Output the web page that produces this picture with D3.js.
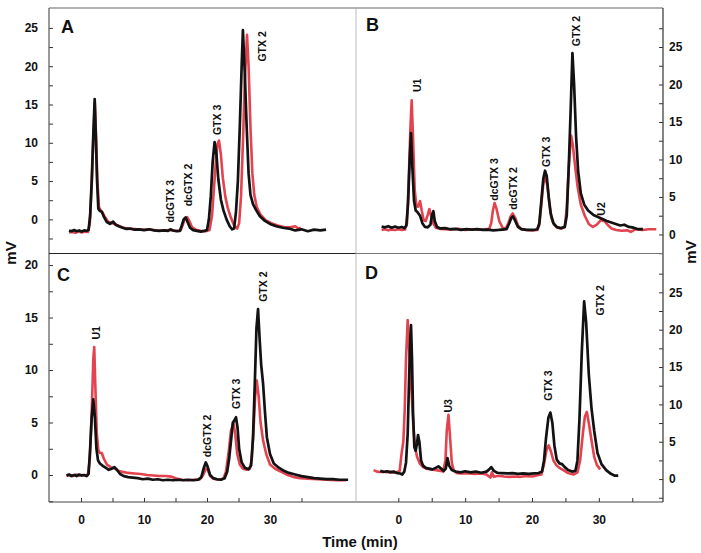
<!DOCTYPE html>
<html>
<head>
<meta charset="utf-8">
<script src="https://cdn.jsdelivr.net/npm/d3@7"></script>
<style>
  html, body { margin: 0; padding: 0; background: #fff; }
  svg { display: block; font-family: "Liberation Sans", Arial, sans-serif; font-weight: bold; }
</style>
</head>
<body>
<svg id="chart" width="701" height="553"></svg>
<script>
// ---------- DATA (time in min, signal in mV) ----------
const aRed = [[-1.9,-1.7],[-1.4,-1.65],[-0.9,-1.75],[-0.4,-1.6],[0.1,-1.7],[0.6,-1.6],[1.1,-1.65],[1.4,-0.5],[1.7,4.5],[1.95,10.5],[2.2,15.2],[2.4,10.5],[2.6,5],[2.85,1.6],[3.1,1.2],[3.4,0.9],[3.8,0.3],[4.3,-0.3],[5.0,-0.5],[5.6,-0.7],[6.3,-0.95],[7.0,-1.15],[8.0,-1.25],[9.0,-1.3],[10.0,-1.35],[11.0,-1.3],[12.0,-1.45],[13.0,-1.45],[14.0,-1.4],[15.0,-1.5],[15.8,-1.45],[16.2,-0.6],[16.5,0.1],[16.85,0.3],[17.2,-0.2],[17.6,-1.0],[18.2,-1.35],[19.0,-1.5],[19.8,-1.55],[20.4,-1.4],[20.8,0.5],[21.1,4],[21.4,7.5],[21.65,9.8],[21.9,10.3],[22.2,8.5],[22.5,5.5],[22.9,3.0],[23.3,1.5],[23.8,0.2],[24.3,-0.8],[24.8,-1.2],[25.1,-0.5],[25.4,3],[25.7,10],[26.0,18],[26.35,24.1],[26.6,20],[26.9,12],[27.2,6],[27.5,3.2],[27.9,1.6],[28.5,0.6],[29.3,-0.1],[30.2,-0.5],[31.2,-0.8],[32.2,-1.0],[33.2,-1.05],[34.0,-0.9],[34.5,-1.2],[34.9,-1.1]];
const aBlack = [[-1.9,-1.45],[-1.5,-1.55],[-1.1,-1.4],[-0.7,-1.55],[-0.3,-1.45],[0.1,-1.6],[0.5,-1.45],[0.9,-1.5],[1.2,-1.4],[1.45,0.5],[1.7,5],[1.95,11],[2.17,15.7],[2.35,11],[2.55,5],[2.75,1.4],[3.0,1.1],[3.3,1.0],[3.6,0.4],[4.1,-0.35],[4.6,-0.6],[5.1,-0.3],[5.5,-0.7],[6.0,-0.9],[6.6,-1.1],[7.2,-1.25],[7.8,-1.2],[8.5,-1.35],[9.2,-1.3],[10.0,-1.4],[10.8,-1.3],[11.6,-1.45],[12.4,-1.5],[13.2,-1.45],[13.8,-1.5],[14.2,-1.3],[14.6,-1.45],[15.2,-1.55],[15.7,-1.5],[16.0,-0.8],[16.3,0.0],[16.6,0.25],[16.9,-0.3],[17.3,-1.1],[17.8,-1.4],[18.4,-1.5],[19.0,-1.6],[19.6,-1.5],[20.0,-1.4],[20.3,0.0],[20.6,3.0],[20.9,7.5],[21.2,10.1],[21.5,8.5],[21.8,5.2],[22.2,2.6],[22.6,1.2],[23.1,0.0],[23.6,-0.9],[24.0,-1.3],[24.3,-1.2],[24.6,1.0],[24.9,5],[25.2,12],[25.5,20],[25.7,24.7],[26.0,19],[26.3,12],[26.6,6],[26.9,3.2],[27.3,2.0],[27.8,1.2],[28.4,0.4],[29.2,-0.2],[30.0,-0.6],[31.0,-0.9],[32.0,-1.1],[33.0,-1.2],[34.0,-1.45],[35.0,-1.3],[36.0,-1.55],[37.0,-1.35],[38.0,-1.45],[38.9,-1.35]];

const bRed = [[-2.5,0.6],[-2.0,0.7],[-1.5,0.55],[-1.0,0.65],[-0.5,0.6],[0.0,0.7],[0.5,0.6],[1.0,0.65],[1.3,1.5],[1.55,7],[1.8,14],[2.0,17.9],[2.2,13],[2.45,6],[2.7,3.8],[2.95,3.7],[3.25,4.45],[3.5,3.2],[3.8,1.9],[4.1,1.8],[4.4,2.6],[4.65,3.4],[4.9,2.5],[5.2,1.5],[5.6,0.9],[6.2,0.75],[7.0,0.7],[8.0,0.65],[9.0,0.75],[10.0,0.6],[11.0,0.7],[12.0,0.65],[13.0,0.7],[13.6,0.75],[13.9,1.5],[14.15,3.2],[14.4,4.2],[14.7,3.4],[15.1,1.8],[15.6,0.9],[16.1,0.8],[16.5,1.6],[16.8,2.4],[17.1,2.8],[17.5,2.2],[17.9,1.2],[18.4,0.7],[19.2,0.6],[20.0,0.55],[20.8,0.6],[21.1,1.3],[21.4,4],[21.7,6.8],[22.0,7.7],[22.3,6.5],[22.6,4.0],[22.9,2.2],[23.3,1.3],[23.8,0.9],[24.4,0.8],[24.9,1.0],[25.2,3.5],[25.5,9],[25.85,13.2],[26.1,12],[26.4,9.5],[26.8,6.5],[27.3,4.0],[27.9,2.5],[28.5,1.4],[29.1,1.0],[29.7,1.3],[30.3,1.9],[30.8,1.8],[31.3,1.3],[31.9,0.8],[32.6,0.6],[33.4,0.5],[34.2,0.55],[34.8,0.35],[35.5,0.7],[36.5,0.6],[37.5,0.7],[38.6,0.7]];
const bBlack = [[-2.5,1.05],[-2.0,0.95],[-1.5,1.1],[-1.0,0.9],[-0.5,1.05],[0.0,0.9],[0.5,1.0],[0.9,0.85],[1.2,1.2],[1.45,4],[1.7,10],[1.9,13.5],[2.1,9],[2.35,4.5],[2.6,3.2],[2.85,3.0],[3.25,2.5],[3.6,1.5],[4.0,1.0],[4.4,0.95],[4.8,1.3],[5.05,2.6],[5.25,3.1],[5.45,1.8],[5.8,1.0],[6.3,0.8],[7.0,0.85],[7.8,0.7],[8.6,0.75],[9.4,0.6],[10.2,0.7],[11.0,0.65],[11.8,0.7],[12.6,0.6],[13.4,0.65],[14.2,0.55],[15.0,0.6],[15.6,0.65],[16.2,0.7],[16.6,1.5],[16.9,2.2],[17.15,2.4],[17.5,1.8],[17.9,1.0],[18.4,0.7],[19.2,0.6],[20.2,0.6],[20.8,0.7],[21.1,1.5],[21.4,4.5],[21.7,7.5],[21.95,8.5],[22.2,7.8],[22.5,5.0],[22.8,2.8],[23.2,1.5],[23.7,1.0],[24.3,0.85],[24.9,1.0],[25.2,2.5],[25.5,9],[25.8,17],[26.05,24.2],[26.3,20],[26.6,13],[26.9,8.5],[27.3,5.5],[27.8,4.0],[28.4,3.2],[29.2,2.6],[30.2,2.2],[31.2,1.8],[32.2,1.5],[33.2,1.2],[33.8,1.3],[34.5,1.0],[35.2,0.9],[35.9,0.7],[36.6,0.7]];

const cRed = [[-2.3,-0.1],[-1.8,0.0],[-1.3,-0.1],[-0.8,0.05],[-0.3,-0.05],[0.2,0.0],[0.7,-0.05],[1.1,0.05],[1.4,1.5],[1.7,6],[1.95,11],[2.1,12.2],[2.3,8],[2.5,4],[2.75,2.4],[3.0,2.1],[3.3,2.1],[3.6,1.6],[4.1,1.0],[4.7,0.75],[5.3,0.65],[5.9,0.4],[6.6,0.3],[7.5,0.2],[8.5,0.15],[9.5,0.1],[10.5,0.0],[11.5,-0.05],[12.5,-0.1],[13.5,-0.1],[14.3,-0.15],[15.0,-0.3],[16.0,-0.45],[17.0,-0.5],[18.0,-0.45],[18.9,-0.4],[19.4,0.0],[19.8,0.6],[20.1,0.5],[20.5,-0.1],[21.0,-0.35],[21.8,-0.45],[22.6,-0.35],[23.0,0.3],[23.4,2.0],[23.8,4.2],[24.2,5.0],[24.5,3.8],[24.8,2.0],[25.2,1.0],[25.7,0.6],[26.3,0.5],[26.8,0.6],[27.1,1.5],[27.4,4.5],[27.65,7.5],[27.9,9.0],[28.2,7.5],[28.5,5.0],[28.9,3.3],[29.4,2.0],[30.0,1.0],[30.8,0.6],[31.8,0.3],[32.8,0.0],[33.8,-0.2],[34.8,-0.3],[36.0,-0.35],[37.5,-0.4],[39.0,-0.45],[40.5,-0.5],[42.1,-0.5]];
const cBlack = [[-2.3,-0.05],[-1.9,0.05],[-1.5,-0.1],[-1.1,0.0],[-0.7,-0.1],[-0.3,0.05],[0.1,-0.05],[0.5,0.0],[0.9,-0.1],[1.2,0.1],[1.45,2.5],[1.7,5.5],[1.95,7.2],[2.2,5.5],[2.45,2.5],[2.7,1.4],[3.0,1.1],[3.4,0.9],[3.9,0.7],[4.4,0.5],[4.9,0.6],[5.3,0.75],[5.7,0.5],[6.2,0.1],[6.8,-0.1],[7.5,-0.2],[8.2,-0.25],[9.0,-0.3],[9.8,-0.4],[10.6,-0.35],[11.4,-0.45],[12.2,-0.4],[13.0,-0.5],[13.8,-0.45],[14.6,-0.5],[15.4,-0.45],[16.2,-0.5],[17.0,-0.45],[17.8,-0.5],[18.6,-0.45],[19.1,-0.2],[19.5,0.7],[19.8,1.2],[20.1,0.8],[20.5,0.0],[21.0,-0.3],[21.6,-0.4],[22.2,-0.45],[22.8,-0.3],[23.2,0.3],[23.5,1.5],[23.8,3.2],[24.1,5.0],[24.35,5.2],[24.6,5.5],[24.85,4.5],[25.1,2.5],[25.5,1.2],[26.0,0.7],[26.6,0.55],[27.0,0.9],[27.3,3.5],[27.6,9],[27.85,14],[28.1,15.8],[28.35,13],[28.6,10.5],[28.9,8.7],[29.2,6],[29.5,3.6],[30.0,2.0],[30.6,1.1],[31.4,0.7],[32.2,0.4],[33.0,0.2],[34.0,0.05],[35.0,-0.1],[36.0,-0.2],[37.0,-0.3],[38.0,-0.35],[39.0,-0.4],[40.0,-0.4],[41.0,-0.45],[42.4,-0.45]];

const dRed = [[-3.7,1.2],[-3.2,1.0],[-2.7,0.95],[-2.2,1.0],[-1.7,0.9],[-1.2,1.0],[-0.7,0.85],[-0.2,0.95],[0.2,1.1],[0.5,3.5],[0.75,5],[0.95,9],[1.15,16],[1.4,21.3],[1.6,18],[1.8,14],[2.0,11.4],[2.25,7],[2.5,4.3],[2.8,3.0],[3.2,2.1],[3.7,1.6],[4.2,1.4],[4.9,1.3],[5.7,1.2],[6.3,1.1],[6.7,1.0],[7.05,2.5],[7.25,6.5],[7.5,8.6],[7.75,5.5],[8.0,2.2],[8.3,1.1],[8.8,0.8],[9.6,0.75],[10.5,0.8],[11.4,0.7],[12.3,0.75],[13.2,0.6],[13.8,0.2],[14.0,0.9],[14.3,0.3],[15.0,0.45],[15.8,0.35],[16.6,0.3],[17.4,0.35],[18.3,0.3],[19.2,0.4],[20.0,0.35],[20.8,0.5],[21.4,0.6],[21.8,2.0],[22.2,4.0],[22.5,4.5],[22.8,3.8],[23.2,2.5],[23.6,1.9],[24.1,1.5],[24.7,1.2],[25.4,0.8],[26.2,0.6],[26.8,0.9],[27.2,2.5],[27.6,6],[27.9,8.3],[28.2,9.0],[28.5,7.5],[28.9,5.2],[29.3,3.0],[29.7,1.9],[30.2,1.3]];
const dBlack = [[-2.7,1.1],[-2.2,0.95],[-1.7,1.05],[-1.2,0.9],[-0.7,1.0],[-0.2,0.8],[0.3,0.75],[0.6,0.6],[0.9,1.0],[1.15,2.2],[1.4,6],[1.6,13],[1.8,19],[1.9,20.6],[2.05,16],[2.2,9],[2.4,4.3],[2.6,3.8],[2.8,4.8],[2.95,5.9],[3.15,5.0],[3.4,2.5],[3.7,1.8],[4.1,1.5],[4.6,1.4],[5.1,1.3],[5.6,1.5],[6.0,1.7],[6.4,1.4],[6.8,1.1],[7.1,1.4],[7.35,2.8],[7.6,1.8],[8.0,1.2],[8.6,1.0],[9.3,0.9],[10.0,1.05],[10.8,0.9],[11.6,1.0],[12.4,0.85],[13.2,1.0],[13.6,1.3],[13.9,1.6],[14.3,1.1],[14.8,0.85],[15.5,0.8],[16.3,0.75],[17.1,0.8],[17.9,0.7],[18.7,0.75],[19.5,0.7],[20.3,0.75],[21.0,0.8],[21.5,1.0],[21.8,2.5],[22.1,5.5],[22.45,8.2],[22.75,8.9],[23.05,7.5],[23.35,4.5],[23.7,2.6],[24.1,2.1],[24.5,2.0],[24.9,1.6],[25.4,1.2],[26.0,1.0],[26.5,1.1],[26.8,2.5],[27.1,8],[27.45,17],[27.8,23.8],[28.1,21],[28.5,14],[28.9,9.5],[29.3,6.5],[29.8,3.5],[30.4,2.0],[31.1,1.2],[31.8,0.7],[32.4,0.45],[32.9,0.45]];

// Peak annotations: name, retention time (min), signal (mV) at label base
const aLabelNames = ["dcGTX 3", "dcGTX 2", "GTX 3", "GTX 2"];
const aLabelT = [14.1, 17.0, 21.6, 28.7];
const aLabelV = [-0.4, 1.7, 11.0, 20.6];
const bLabelNames = ["U1", "dcGTX 3", "dcGTX 2", "GTX 3", "GTX 2", "U2"];
const bLabelT = [2.85, 14.3, 17.2, 22.2, 26.6, 30.4];
const bLabelV = [19.0, 4.5, 3.3, 9.0, 25.1, 2.5];
const cLabelNames = ["U1", "dcGTX 2", "GTX 3", "GTX 2"];
const cLabelT = [2.5, 20.0, 24.6, 28.9];
const cLabelV = [12.9, 1.7, 6.3, 16.5];
const dLabelNames = ["U3", "GTX 3", "GTX 2"];
const dLabelT = [7.5, 22.5, 30.2];
const dLabelV = [8.9, 10.5, 21.9];

const panelLetters = ["A", "B", "C", "D"];
const yTicks = [-2.5, 0, 2.5, 5, 7.5, 10, 12.5, 15, 17.5, 20, 22.5, 25, 27.5];
const yTickLabels = [0, 5, 10, 15, 20, 25];
const xTicks = [0, 5, 10, 15, 20, 25, 30, 35];
const xTickLabels = [0, 10, 20, 30];

// ---------- LAYOUT ----------
const L = 49, M = 356, R = 663, T = 8, H = 253.5, B = 502;
const RED = "#e2434f", BLACK = "#121212";

const svg = d3.select("#chart");

const xLeft = d3.scaleLinear().domain([-5.08, 43.65]).range([L, M]);
const xRight = d3.scaleLinear().domain([-6.33, 39.6]).range([M, R]);
const yA = d3.scaleLinear().domain([-4.46, 27.6]).range([H, T]);
const yB = d3.scaleLinear().domain([-2.54, 30.2]).range([H, T]);
const yC = d3.scaleLinear().domain([-2.57, 21.1]).range([B, H]);
const yD = d3.scaleLinear().domain([-3.07, 30.2]).range([B, H]);

function zip(names, ts, vs) { return names.map((n, i) => ({ name: n, t: ts[i], v: vs[i] })); }

const panels = [
  { x: xLeft, y: yA, red: aRed, black: aBlack, labels: zip(aLabelNames, aLabelT, aLabelV), letter: panelLetters[0], lx: L + 12, ly: T + 25, yMin: -2.5, yMax: 25 },
  { x: xRight, y: yB, red: bRed, black: bBlack, labels: zip(bLabelNames, bLabelT, bLabelV), letter: panelLetters[1], lx: M + 10, ly: T + 23, yMin: -2.5, yMax: 27.5 },
  { x: xLeft, y: yC, red: cRed, black: cBlack, labels: zip(cLabelNames, cLabelT, cLabelV), letter: panelLetters[2], lx: L + 8, ly: H + 27, yMin: -2.5, yMax: 20 },
  { x: xRight, y: yD, red: dRed, black: dBlack, labels: zip(dLabelNames, dLabelT, dLabelV), letter: panelLetters[3], lx: M + 9, ly: H + 25, yMin: -2.5, yMax: 27.5 }
];

panels.forEach(p => {
  const line = d3.line().x(d => p.x(d[0])).y(d => p.y(d[1])).curve(d3.curveLinear);
  svg.append("path").datum(p.red).attr("d", line)
    .attr("fill", "none").attr("stroke", RED).attr("stroke-width", 2.6).attr("stroke-linejoin", "round");
  svg.append("path").datum(p.black).attr("d", line)
    .attr("fill", "none").attr("stroke", BLACK).attr("stroke-width", 2.7).attr("stroke-linejoin", "round");

  p.labels.forEach(l => {
    svg.append("text")
      .attr("transform", `translate(${p.x(l.t)},${p.y(l.v)}) rotate(-90)`)
      .attr("dy", "0.35em")
      .attr("text-anchor", "start")
      .attr("font-size", 10.5)
      .attr("fill", "#111")
      .text(l.name);
  });

  svg.append("text").attr("x", p.lx).attr("y", p.ly)
    .attr("font-size", 18).attr("fill", "#111").text(p.letter);
});

// ---------- AXES ----------
function styleAxis(g) {
  g.select(".domain").remove();
  g.selectAll(".tick line").attr("stroke", "#333").attr("stroke-width", 1);
  g.selectAll(".tick text").attr("font-size", 12).attr("font-weight", "bold")
    .attr("font-family", "'Liberation Sans', Arial, sans-serif").attr("fill", "#111");
}
const fmtY = d => yTickLabels.includes(d) ? d : "";
const fmtX = d => xTickLabels.includes(d) ? d : "";

[[yA, panels[0]], [yC, panels[2]]].forEach(([ys, p]) => {
  svg.append("g").attr("transform", `translate(${L},0)`)
    .call(d3.axisLeft(ys).tickValues(yTicks.filter(v => v >= p.yMin && v <= p.yMax)).tickFormat(fmtY).tickSize(-4).tickPadding(11))
    .call(styleAxis);
});
[[yB, panels[1]], [yD, panels[3]]].forEach(([ys, p]) => {
  svg.append("g").attr("transform", `translate(${R},0)`)
    .call(d3.axisRight(ys).tickValues(yTicks.filter(v => v >= p.yMin && v <= p.yMax)).tickFormat(fmtY).tickSize(-4).tickPadding(6))
    .call(styleAxis);
});
[xLeft, xRight].forEach(xs => {
  svg.append("g").attr("transform", `translate(0,${B})`)
    .call(d3.axisBottom(xs).tickValues(xTicks).tickFormat(fmtX).tickSize(-4).tickPadding(13))
    .call(styleAxis);
});

// ---------- FRAME ----------
const frame = svg.append("g").attr("fill", "none");
frame.append("line").attr("x1", L).attr("x2", R).attr("y1", T).attr("y2", T).attr("stroke", "#666").attr("stroke-width", 1.2);
frame.append("line").attr("x1", L).attr("x2", R).attr("y1", B).attr("y2", B).attr("stroke", "#444").attr("stroke-width", 1.2);
frame.append("line").attr("x1", L).attr("x2", L).attr("y1", T).attr("y2", B).attr("stroke", "#555").attr("stroke-width", 1.2);
frame.append("line").attr("x1", R).attr("x2", R).attr("y1", T).attr("y2", B).attr("stroke", "#333").attr("stroke-width", 1.2);
frame.append("line").attr("x1", L).attr("x2", M).attr("y1", H).attr("y2", H).attr("stroke", "#222").attr("stroke-width", 1.2);
frame.append("line").attr("x1", M).attr("x2", R).attr("y1", H).attr("y2", H).attr("stroke", "#777").attr("stroke-width", 1.2);
frame.append("line").attr("x1", M).attr("x2", M).attr("y1", T).attr("y2", B).attr("stroke", "#aaa").attr("stroke-width", 0.8);

// ---------- AXIS TITLES ----------
svg.append("text").attr("transform", "translate(11,253) rotate(-90)")
  .attr("text-anchor", "middle").attr("dy", "0.35em").attr("font-size", 15).attr("fill", "#111").text("mV");
svg.append("text").attr("transform", "translate(691,252) rotate(-90)")
  .attr("text-anchor", "middle").attr("dy", "0.35em").attr("font-size", 15).attr("fill", "#111").text("mV");
svg.append("text").attr("x", 360).attr("y", 547)
  .attr("text-anchor", "middle").attr("font-size", 15).attr("fill", "#111").text("Time (min)");
</script>
</body>
</html>
